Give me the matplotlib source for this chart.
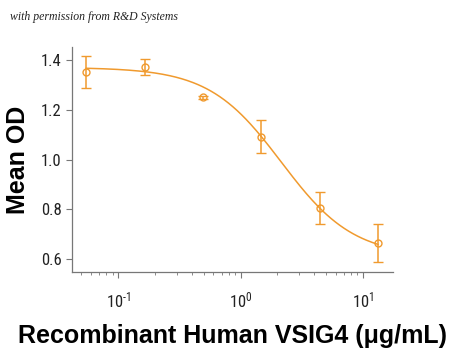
import numpy as np
import matplotlib
matplotlib.use("Agg")
from matplotlib import pyplot as plt
from matplotlib.ticker import LogLocator, NullFormatter, FixedLocator

# concentration (ug/mL) and mean OD with error bars
conc = [0.0549, 0.165, 0.494, 1.48, 4.44, 13.3]
mean_od = [1.351, 1.371, 1.250, 1.092, 0.804, 0.664]
err = [0.064, 0.031, 0.005, 0.066, 0.065, 0.076]
# 4PL fit parameters: top, bottom, ec50, hill
fit_top = 1.37
fit_bottom = 0.61
fit_ec50 = 2.15
fit_hill = 1.47

xtick_vals = [0.1, 1, 10]
xtick_labels = ['10$^{\\text{-}1}$', '10$^{0}$', '10$^{1}$']
ytick_vals = [0.6, 0.8, 1.0, 1.2, 1.4]
ytick_labels = ['0.6', '0.8', '1.0', '1.2', '1.4']

orange = '#F09A2E'

plt.rcParams['font.family'] = ['Roboto Condensed', 'DejaVu Sans']
plt.rcParams['mathtext.fontset'] = 'custom'
plt.rcParams['mathtext.rm'] = 'Roboto Condensed'
plt.rcParams['mathtext.it'] = 'Roboto Condensed'
plt.rcParams['axes.unicode_minus'] = False

fig = plt.figure(figsize=(4.5, 3.5), dpi=100)
ax = fig.add_axes([72 / 450, 1 - 272 / 350, (393 - 72) / 450, (272 - 47) / 350])

xs = np.logspace(np.log10(conc[0]), np.log10(conc[-1]), 200)
ys = fit_bottom + (fit_top - fit_bottom) / (1 + (xs / fit_ec50) ** fit_hill)
ax.plot(xs, ys, color=orange, lw=1.1)
ax.errorbar(conc, mean_od, yerr=err, fmt='o', mfc='none', mec=orange, ms=5,
            mew=1.0, ecolor=orange, elinewidth=1.1, capsize=3.5, capthick=1.1)

ax.set_xscale('log')
ax.set_xlim(0.042, 17.6)
ax.set_ylim(0.548, 1.452)
ax.set_yticks(ytick_vals)
ax.set_yticklabels(ytick_labels)
ax.set_xticks(xtick_vals)
ax.set_xticklabels(xtick_labels)
ax.xaxis.set_minor_locator(LogLocator(base=10, subs=np.arange(2, 10)))
ax.xaxis.set_minor_formatter(NullFormatter())

for s in ['top', 'right']:
    ax.spines[s].set_visible(False)
for s in ['left', 'bottom']:
    ax.spines[s].set_color('#777777')
    ax.spines[s].set_linewidth(0.9)
ax.tick_params(axis='both', which='major', length=4, color='#777777', labelsize=12, labelcolor='#222222')
ax.tick_params(axis='x', which='minor', length=2, color='#777777')
ax.tick_params(axis='x', pad=9)

ax.set_ylabel('Mean OD', family=['Liberation Sans', 'DejaVu Sans'], fontsize=18, fontweight='bold', labelpad=8)
ax.set_xlabel('Recombinant Human VSIG4 (μg/mL)', family=['Liberation Sans', 'DejaVu Sans'],
              fontsize=18, fontweight='bold', labelpad=10)

fig.text(10 / 450, 1 - 17 / 350, 'with permission from R&D Systems', family=['Liberation Serif', 'DejaVu Serif'],
         style='italic', fontsize=8.5, color='#222222', va='center')

fig.savefig('out.png', dpi=100)
